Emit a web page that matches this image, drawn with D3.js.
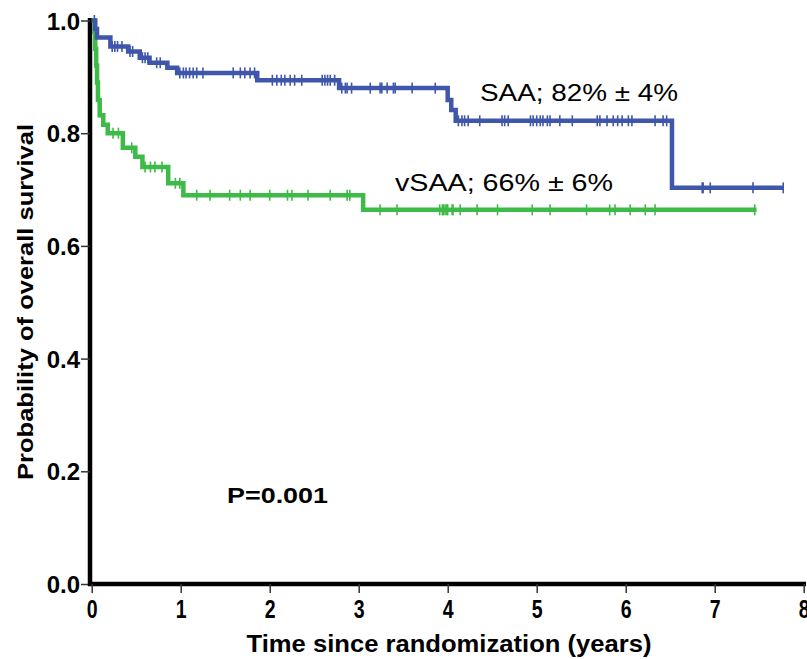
<!DOCTYPE html>
<meta charset="utf-8">
<title>overall survival</title>
<style>
  body { margin: 0; background: #fff; }
  .axis path.domain { stroke: #000; stroke-width: 4.5; }
  .axis .tick line { stroke: #333; stroke-width: 1.5; }
  .axis text { font-family: Arial, "Liberation Sans", sans-serif; font-weight: bold; fill: #000; }
  .xaxis text { font-size: 25px; }
  .yaxis text { font-size: 24px; }
</style>
<body>
<div class="graph"></div>
</body>
<script src="https://d3js.org/d3.v7.min.js"></script>
<script>

// tick labels

var xTicks = [0, 1, 2, 3, 4, 5, 6, 7, 8];
var yTicks = [0.0, 0.2, 0.4, 0.6, 0.8, 1.0];

// SAA: step times (years) and survival after each step

var saaTimes = [0, 0.04, 0.06, 0.21, 0.41, 0.54, 0.65, 0.85, 0.96, 1.86, 2.78, 4.00, 4.04, 4.09, 6.52, 7.77];
var saaSurv  = [1.0, 0.985, 0.970, 0.954, 0.945, 0.934, 0.925, 0.916, 0.907, 0.894, 0.880, 0.859, 0.841, 0.822, 0.703, 0.703];
var saaCensor = [0.03, 0.23, 0.26, 0.29, 0.34, 0.43, 0.46, 0.57, 0.60, 0.63, 0.73, 0.77,
  0.99, 1.03, 1.06, 1.10, 1.14, 1.18, 1.25, 1.59, 1.67, 1.72, 1.78, 1.83,
  2.03, 2.08, 2.13, 2.17, 2.23, 2.28, 2.36, 2.59, 2.62, 2.65, 2.68, 2.73,
  2.81, 2.85, 2.87, 2.92, 3.13, 3.24, 3.26, 3.32, 3.39, 3.41, 3.60, 3.86,
  4.12, 4.16, 4.19, 4.23, 4.36, 4.61, 4.64, 4.68, 4.93, 4.96, 5.00, 5.04, 5.07, 5.12, 5.15,
  5.26, 5.40, 5.68, 5.71, 5.79, 5.86, 5.91, 5.96, 6.03, 6.07, 6.33, 6.42, 6.46,
  6.86, 6.87, 6.95, 7.43, 7.77];

// vSAA

var vsaaTimes = [0, 0.03, 0.04, 0.05, 0.06, 0.07, 0.09, 0.13, 0.18, 0.35, 0.49, 0.57, 0.86, 1.03, 3.05, 7.47];
var vsaaSurv  = [1.0, 0.98, 0.95, 0.92, 0.89, 0.859, 0.832, 0.815, 0.800, 0.774, 0.758, 0.740, 0.711, 0.690, 0.664, 0.664];
var vsaaCensor = [0.24, 0.30, 0.45, 0.60, 0.66, 0.71, 0.79, 0.94, 0.99,
  1.18, 1.33, 1.55, 1.67, 1.78, 2.00, 2.20, 2.25, 2.43, 2.68, 2.87, 2.90,
  3.24, 3.43, 3.91, 3.94, 3.95, 3.97, 3.99, 4.00, 4.05, 4.06, 4.14, 4.33, 4.56, 4.95,
  5.15, 5.56, 5.82, 5.88, 6.05, 6.22, 6.33, 7.45];

var labels = ["SAA; 82% \u00b1 4%", "vSAA; 66% \u00b1 6%"];

var W = 807, H = 659;

var svg = d3.select(".graph").append("svg")
  .attr("width", W)
  .attr("height", H);

var xscale = d3.scaleLinear().domain([0, 8]).range([91.7, 803.7]);
var yscale = d3.scaleLinear().domain([0, 1]).range([584, 20.5]);

// axes

svg.append("g")
  .attr("class", "axis yaxis")
  .attr("transform", "translate(90,0)")
  .call(d3.axisLeft(yscale).tickValues(yTicks).tickFormat(d3.format(".1f")).tickSize(9).tickSizeOuter(0))
  .selectAll("text")
  .attr("x", -10)
  .attr("dy", "0.36em");

svg.append("g")
  .attr("class", "axis xaxis")
  .attr("transform", "translate(0,584)")
  .call(d3.axisBottom(xscale).tickValues(xTicks).tickSize(9).tickSizeOuter(0))
  .selectAll("text")
  .attr("y", 0)
  .attr("dy", 34)
  .attr("transform", "scale(0.78,1)");

svg.select(".xaxis path.domain").attr("d", "M88,0H806");
svg.select(".yaxis path.domain").attr("d", "M0,18V586");

// axis titles

svg.append("text")
  .attr("x", 449)
  .attr("y", 652)
  .attr("text-anchor", "middle")
  .attr("textLength", 405)
  .attr("lengthAdjust", "spacingAndGlyphs")
  .style("font-family", "Arial, sans-serif")
  .style("font-weight", "bold")
  .style("font-size", "24px")
  .text("Time since randomization (years)");

svg.append("text")
  .attr("transform", "translate(33,302) rotate(-90)")
  .attr("text-anchor", "middle")
  .attr("textLength", 356)
  .attr("lengthAdjust", "spacingAndGlyphs")
  .style("font-family", "Arial, sans-serif")
  .style("font-weight", "bold")
  .style("font-size", "22px")
  .text("Probability of overall survival");

// curves

function survAt(times, surv, t) {
  var i = d3.bisectRight(times, t) - 1;
  return surv[Math.max(0, i)];
}

var line = d3.line()
  .x(function(d) { return xscale(d[0]); })
  .y(function(d) { return yscale(d[1]); })
  .curve(d3.curveStepAfter);

var series = [
  {times: vsaaTimes, surv: vsaaSurv, censor: vsaaCensor, color: "#3dba47"},
  {times: saaTimes, surv: saaSurv, censor: saaCensor, color: "#3f56aa"}
];

series.forEach(function(s) {
  var pts = s.times.map(function(t, i) { return [t, s.surv[i]]; });
  svg.append("path")
    .attr("d", line(pts))
    .attr("fill", "none")
    .attr("stroke", s.color)
    .attr("stroke-width", 4.5);

  svg.selectAll(null)
    .data(s.censor)
    .enter()
    .append("line")
    .attr("x1", function(d) { return xscale(d); })
    .attr("x2", function(d) { return xscale(d); })
    .attr("y1", function(d) { return yscale(survAt(s.times, s.surv, d)) - 5.5; })
    .attr("y2", function(d) { return yscale(survAt(s.times, s.surv, d)) + 5.5; })
    .attr("stroke", s.color)
    .attr("stroke-width", 1.6);
});

// annotations

svg.append("text")
  .attr("x", 480)
  .attr("y", 101)
  .attr("textLength", 198)
  .attr("lengthAdjust", "spacingAndGlyphs")
  .style("font-family", "Arial, sans-serif")
  .style("font-size", "24px")
  .text(labels[0]);

svg.append("text")
  .attr("x", 395)
  .attr("y", 191)
  .attr("textLength", 218)
  .attr("lengthAdjust", "spacingAndGlyphs")
  .style("font-family", "Arial, sans-serif")
  .style("font-size", "24px")
  .text(labels[1]);

svg.append("text")
  .attr("x", 227)
  .attr("y", 503)
  .attr("textLength", 101)
  .attr("lengthAdjust", "spacingAndGlyphs")
  .style("font-family", "Arial, sans-serif")
  .style("font-weight", "bold")
  .style("font-size", "22px")
  .text("P=0.001");

</script>
